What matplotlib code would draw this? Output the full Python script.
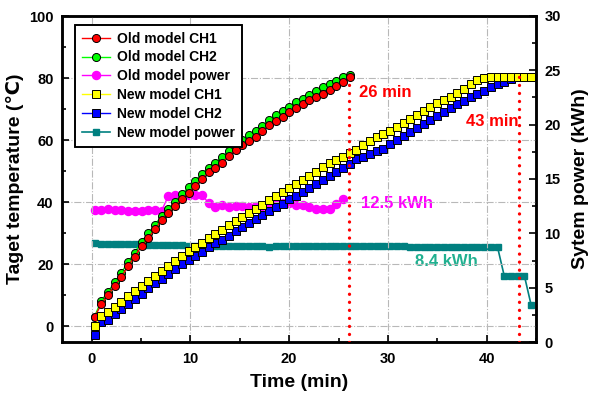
import matplotlib
matplotlib.use("Agg")
import matplotlib.pyplot as plt
from matplotlib.ticker import MultipleLocator
from matplotlib.patches import Rectangle

plt.rcParams['font.family'] = ['Liberation Sans', 'DejaVu Sans']
plt.rcParams['font.weight'] = 'bold'

# ---------------- data ----------------
old_time = [0.3, 0.98, 1.66, 2.34, 3.02, 3.7, 4.38, 5.06, 5.74, 6.42, 7.1, 7.78, 8.46,
            9.14, 9.82, 10.5, 11.18, 11.86, 12.54, 13.22, 13.9, 14.58, 15.26, 15.94,
            16.62, 17.3, 17.98, 18.66, 19.34, 20.02, 20.7, 21.38, 22.06, 22.74, 23.42,
            24.1, 24.78, 25.46, 26.14]
old_ch1 = [3.0, 7.1, 10.2, 13.0, 16.0, 19.5, 22.5, 26.0, 28.5, 31.3, 34.3, 36.5, 38.8,
           41.0, 43.0, 45.3, 47.5, 49.6, 51.0, 52.8, 54.8, 56.9, 58.4, 59.6, 61.0, 62.8,
           64.9, 66.2, 67.6, 69.1, 70.5, 71.7, 72.8, 73.9, 75.0, 76.2, 77.5, 78.9, 80.4]
old_ch2 = [3.2, 8.2, 11.2, 14.2, 17.3, 20.8, 23.8, 27.3, 30.0, 32.8, 35.6, 37.8, 40.2,
           42.6, 44.8, 47.0, 49.2, 51.2, 52.8, 54.6, 56.6, 58.6, 60.2, 61.6, 63.0, 64.6,
           66.6, 68.0, 69.4, 70.8, 72.2, 73.4, 74.6, 75.8, 77.0, 78.0, 79.2, 80.4, 81.0]
old_power = [12.15, 12.15, 12.2, 12.15, 12.15, 12.1, 12.1, 12.1, 12.15, 12.15, 12.1,
             13.45, 13.5, 13.55, 13.5, 13.5, 13.5, 12.8, 12.45, 12.57, 12.45, 12.5, 12.55,
             12.45, 12.5, 12.5, 12.7, 12.9, 12.8, 12.8, 12.57, 12.57, 12.45, 12.27, 12.2,
             12.27, 12.7, 13.2]

new_time = [0.3, 0.98, 1.66, 2.34, 3.02, 3.7, 4.38, 5.06, 5.74, 6.42, 7.1, 7.78, 8.46,
            9.14, 9.82, 10.5, 11.18, 11.86, 12.54, 13.22, 13.9, 14.58, 15.26, 15.94,
            16.62, 17.3, 17.98, 18.66, 19.34, 20.02, 20.7, 21.38, 22.06, 22.74, 23.42,
            24.1, 24.78, 25.46, 26.14, 26.82, 27.5, 28.18, 28.86, 29.54, 30.22, 30.9,
            31.58, 32.26, 32.94, 33.62, 34.3, 34.98, 35.66, 36.34, 37.02, 37.7, 38.38,
            39.06, 39.74, 40.42, 41.1, 41.78, 42.46, 43.14, 43.82, 44.5]
new_ch1 = [0.3, 3.3, 4.6, 6.2, 7.8, 9.7, 11.3, 12.9, 14.5, 16.1, 17.8, 19.4, 21.0, 22.6,
           24.2, 25.6, 26.9, 28.6, 29.8, 31.2, 32.6, 34.0, 35.3, 36.6, 37.9, 39.2, 40.6,
           41.9, 43.3, 44.7, 46.0, 47.3, 48.6, 49.8, 51.3, 52.5, 53.6, 54.7, 55.8, 57.0,
           58.3, 59.6, 60.9, 62.1, 63.1, 64.2, 65.4, 66.7, 68.0, 69.3, 70.6, 71.9, 72.9,
           74.0, 75.3, 76.6, 78.0, 79.3, 80.0, 80.2, 80.3, 80.3, 80.4, 80.4, 80.4, 80.4]
new_ch2 = [-2.7, 1.5, 2.2, 4.1, 5.7, 7.3, 9.0, 10.5, 12.3, 14.0, 15.4, 17.0, 18.6, 20.2,
           21.5, 22.6, 24.0, 25.6, 26.8, 28.0, 29.3, 30.6, 31.9, 33.2, 34.5, 35.9, 37.2,
           38.4, 39.6, 40.9, 42.1, 43.4, 44.6, 46.0, 47.3, 48.6, 49.8, 51.2, 52.4, 53.8,
           54.6, 55.6, 56.5, 57.3, 58.7, 60.0, 61.3, 62.7, 64.0, 65.3, 66.6, 67.8, 69.1,
           70.3, 71.6, 72.7, 73.8, 74.8, 75.9, 77.0, 78.0, 78.8, 79.6, 80.2]
new_power = [9.08, 9.05, 9.05, 9.02, 9.0, 9.0, 8.98, 8.98, 8.95, 8.95, 8.95, 8.92, 8.9,
             8.9, 8.88, 8.88, 8.85, 8.85, 8.85, 8.82, 8.82, 8.8, 8.8, 8.82, 8.85, 8.85,
             8.78, 8.85, 8.88, 8.85, 8.85, 8.83, 8.83, 8.83, 8.83, 8.85, 8.83, 8.83, 8.83,
             8.83, 8.83, 8.83, 8.83, 8.83, 8.83, 8.83, 8.83, 8.72, 8.72, 8.72, 8.7, 8.7,
             8.72, 8.72, 8.7, 8.7, 8.72, 8.72, 8.7, 8.72, 8.72, 6.07, 6.07, 6.07, 6.07, 3.4]

marks_time = [26.1, 43.3]
marks_top = [79.4, 80.6]

# ---------------- figure ----------------
fig = plt.figure(figsize=(6.01, 4.00), dpi=100)
ax = fig.add_axes([0.103, 0.145, 0.789, 0.815])
ax2 = ax.twinx()
ax.set_zorder(ax2.get_zorder() + 1)
ax.patch.set_visible(False)

ms_c = 5.8
ms_s = 5.3
h_oc1, = ax.plot(old_time, old_ch2, '-o', color='#00FF00', mfc='#00FF00', mec='black',
                 mew=0.7, ms=ms_c, lw=1, label='Old model CH2')
h_oc2, = ax.plot(old_time, old_ch1, '-o', color='#FF0000', mfc='#FF0000', mec='black',
                 mew=0.7, ms=ms_c, lw=1, label='Old model CH1')
h_nc2, = ax.plot(new_time[:len(new_ch2)], new_ch2, '-s', color='#0000FF', mfc='#0000FF',
                 mec='black', mew=0.7, ms=ms_s, lw=1, label='New model CH2')
h_nc1, = ax.plot(new_time, new_ch1, '-s', color='#FFFF00', mfc='#FFFF00', mec='black',
                 mew=0.7, ms=ms_s, lw=1, label='New model CH1')

h_op, = ax2.plot(old_time[:len(old_power)], old_power, '-o', color='#FF00FF', mfc='#FF00FF',
                 mec='#FF00FF', ms=5.8, lw=1, label='Old model power')
h_np, = ax2.plot(new_time, new_power, '-s', color='#008080', mfc='#008080', mec='#008080',
                 ms=5.0, lw=1.2, label='New model power')

for t, top in zip(marks_time, marks_top):
    ax.plot([t, t], [-5, top], color='#FF0000', lw=2.4, linestyle=(0, (0.01, 2.4)),
            dash_capstyle='round', zorder=10)

ax.text(27.1, 75.2, '26 min', color='#FF0000', fontsize=12, fontweight='bold',
        va='center', ha='left', zorder=11)
ax.text(37.9, 66.1, '43 min', color='#FF0000', fontsize=12, fontweight='bold',
        va='center', ha='left', zorder=11)
ax2.text(27.3, 12.76, '12.5 kWh', color='#FF00FF', fontsize=12, fontweight='bold',
         va='center', ha='left')
ax2.text(32.7, 7.45, '8.4 kWh', color='#20B090', fontsize=12, fontweight='bold',
         va='center', ha='left')

# axes limits and ticks
ax.set_xlim(-3, 45)
ax.set_ylim(-5, 100)
ax2.set_ylim(0, 30)
ax.xaxis.set_major_locator(MultipleLocator(10))
ax.xaxis.set_minor_locator(MultipleLocator(5))
ax.yaxis.set_major_locator(MultipleLocator(20))
ax.yaxis.set_minor_locator(MultipleLocator(10))
ax2.yaxis.set_major_locator(MultipleLocator(5))
ax2.yaxis.set_minor_locator(MultipleLocator(2.5))

for a in (ax, ax2):
    a.tick_params(which='major', direction='in', length=5, width=1.2, labelsize=10.5)
    a.tick_params(which='minor', direction='in', length=3, width=1.2)
    for s in a.spines.values():
        s.set_linewidth(1.8)
ax.tick_params(axis='both', which='both', right=False, top=False)
ax.tick_params(axis='x', which='major', pad=7)
ax.tick_params(axis='y', which='major', pad=6)
ax2.tick_params(axis='y', which='major', pad=6)
for lab in ax.get_xticklabels() + ax.get_yticklabels() + ax2.get_yticklabels():
    lab.set_fontweight('bold')

ax.grid(True, which='major', color='#B8B8B8', linestyle='-.', linewidth=0.8)
ax.set_axisbelow(True)

ax.set_xlabel('Time (min)', fontsize=14, fontweight='bold', labelpad=6)
ax.set_ylabel('Taget temperature (\u2103)', fontsize=14, fontweight='bold', labelpad=4)
ax2.set_ylabel('Sytem power (kWh)', fontsize=14, fontweight='bold', labelpad=8)

handles = [h_oc2, h_oc1, h_op, h_nc1, h_nc2, h_np]
labels = ['Old model CH1', 'Old model CH2', 'Old model power', 'New model CH1',
          'New model CH2', 'New model power']
leg = ax.legend(handles, labels, loc='upper left', bbox_to_anchor=(0.013, 0.995),
                frameon=True, fancybox=False, edgecolor='black', framealpha=1.0,
                handlelength=2.0, handletextpad=0.5, labelspacing=0.35,
                borderpad=0.5, prop={'weight': 'bold', 'size': 10})
leg.get_frame().set_linewidth(1.2)
leg.set_zorder(20)

# explicit black border around the legend box
fig.canvas.draw()
bb = leg.get_window_extent().transformed(fig.transFigure.inverted())
border = Rectangle((bb.x0, bb.y0), bb.width, bb.height, transform=fig.transFigure,
                   fill=False, edgecolor='black', linewidth=1.2, zorder=50)
fig.add_artist(border)

fig.savefig('out.png', dpi=100)
